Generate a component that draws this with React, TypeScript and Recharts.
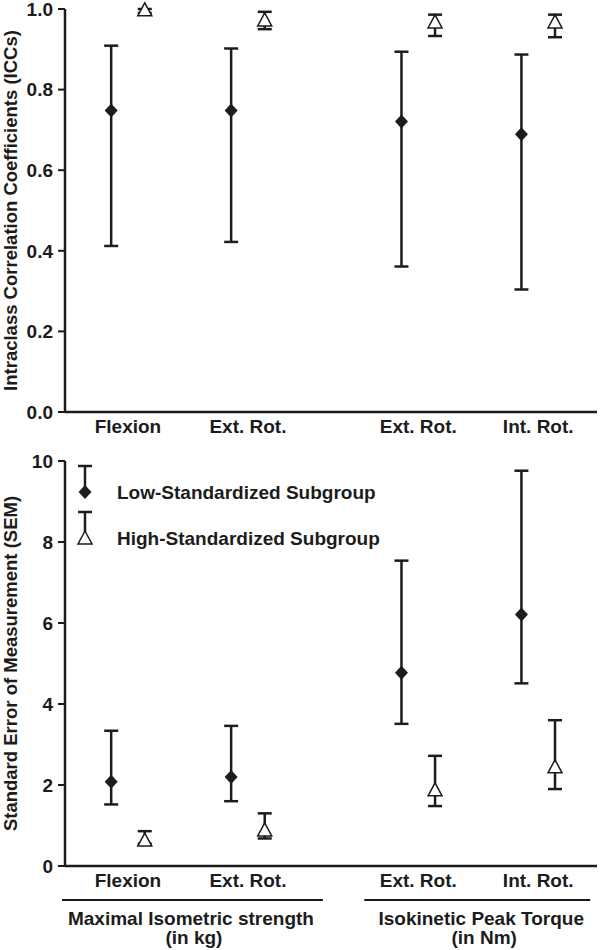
import { ErrorBar, Legend, Scatter, ScatterChart, XAxis, YAxis } from "recharts";

const categories = ["Flexion", "Ext. Rot.", "Ext. Rot.", "Int. Rot."];
const categoryGroup = [0, 0, 1, 1];
const groupTitles = ["Maximal Isometric strength", "Isokinetic Peak Torque"];
const groupUnits = ["(in kg)", "(in Nm)"];
const seriesNames = ["Low-Standardized Subgroup", "High-Standardized Subgroup"];

const iccTicks = [0, 0.2, 0.4, 0.6, 0.8, 1.0];
const semTicks = [0, 2, 4, 6, 8, 10];

// ICCs with 95% CI
const iccLowMean = [0.748, 0.748, 0.721, 0.689];
const iccLowLower = [0.412, 0.422, 0.361, 0.304];
const iccLowUpper = [0.909, 0.902, 0.894, 0.887];
const iccHighMean = [0.998, 0.973, 0.968, 0.968];
const iccHighLower = [0.99, 0.95, 0.933, 0.93];
const iccHighUpper = [1.0, 0.993, 0.986, 0.986];

// SEM with 95% CI
const semLowMean = [2.08, 2.2, 4.77, 6.21];
const semLowLower = [1.52, 1.6, 3.51, 4.51];
const semLowUpper = [3.34, 3.46, 7.54, 9.76];
const semHighMean = [0.64, 0.89, 1.88, 2.45];
const semHighLower = [0.55, 0.68, 1.48, 1.9];
const semHighUpper = [0.86, 1.3, 2.72, 3.6];

const FONT = '"Liberation Sans", Arial, sans-serif';
const INK = "#1c1c1c";
const GROUP_GAP = 0.42;
const DODGE = 0.14;
const X_DOMAIN: [number, number] = [0.475, 4.91];
const PLOT_LEFT = 65;
const PLOT_RIGHT = 597;
// how far each group rule sticks out past its outer categories (px, left/right)
const RULE_OVERHANG = [
  [66, 75],
  [54, 52],
];

const positions = categories.map((_, i) => i + 1 + categoryGroup[i] * GROUP_GAP);
const groupCenters = groupTitles.map((_, g) => {
  const ps = positions.filter((_, i) => categoryGroup[i] === g);
  return (Math.min(...ps) + Math.max(...ps)) / 2;
});
const groupSpans = groupTitles.map((_, g) => {
  const ps = positions.filter((_, i) => categoryGroup[i] === g);
  return [Math.min(...ps), Math.max(...ps)];
});

// same linear mapping the x axis uses, for the group captions under the lower panel
const px = (v: number) =>
  PLOT_LEFT + ((v - X_DOMAIN[0]) / (X_DOMAIN[1] - X_DOMAIN[0])) * (PLOT_RIGHT - PLOT_LEFT);

const buildSeries = (
  mean: number[],
  lower: number[],
  upper: number[],
  shift: number,
) =>
  mean.map((m, i) => ({
    x: positions[i] + shift,
    y: m,
    err: [m - lower[i], upper[i] - m],
  }));

const labelFor = (v: number) => {
  const i = positions.findIndex((p) => Math.abs(p - v) < 1e-6);
  return i >= 0 ? categories[i] : "";
};

const Diamond = ({ cx, cy }: any) => (
  <polygon
    points={`${cx},${cy - 7} ${cx + 6.5},${cy} ${cx},${cy + 7} ${cx - 6.5},${cy}`}
    fill={INK}
  />
);

const Triangle = ({ cx, cy }: any) => (
  <polygon
    points={`${cx},${cy - 7} ${cx + 7},${cy + 6} ${cx - 7},${cy + 6}`}
    fill="#fff"
    stroke={INK}
    strokeWidth={1.5}
  />
);

const tickStyle = { fontFamily: FONT, fontSize: 19, fontWeight: 700, fill: INK };

const AxisTitle = ({ viewBox, text }: any) => {
  const cy = viewBox.y + viewBox.height / 2;
  return (
    <text
      x={0}
      y={0}
      transform={`translate(10, ${cy}) rotate(-90)`}
      textAnchor="middle"
      dominantBaseline="central"
      style={{ fontFamily: FONT, fontSize: 18.5, fontWeight: 700, fill: INK }}
    >
      {text}
    </text>
  );
};

const GroupCaptions = () => (
  <svg width={600} height={60} style={{ display: "block" }}>
    {groupCenters.map((c, g) => {
      const x = px(c);
      const x1 = px(groupSpans[g][0]) - RULE_OVERHANG[g][0];
      const x2 = px(groupSpans[g][1]) + RULE_OVERHANG[g][1];
      return (
        <g key={g}>
          <line x1={x1} x2={x2} y1={10} y2={10} stroke={INK} strokeWidth={2} />
          <text x={x + 3} y={28} textAnchor="middle" dominantBaseline="central" style={tickStyle}>
            {groupTitles[g]}
          </text>
          <text x={x + 6} y={47} textAnchor="middle" dominantBaseline="central" style={tickStyle}>
            {groupUnits[g]}
          </text>
        </g>
      );
    })}
  </svg>
);

const SemLegend = () => (
  <svg width={340} height={92} style={{ display: "block" }}>
    <line x1={15} x2={15} y1={4} y2={30} stroke={INK} strokeWidth={2.5} />
    <line x1={8} x2={22} y1={4} y2={4} stroke={INK} strokeWidth={2.5} />
    <Diamond cx={15} cy={30} />
    <text x={47} y={30} dominantBaseline="central" style={tickStyle}>
      {seriesNames[0]}
    </text>
    <line x1={15} x2={15} y1={50} y2={76} stroke={INK} strokeWidth={2.5} />
    <line x1={8} x2={22} y1={50} y2={50} stroke={INK} strokeWidth={2.5} />
    <Triangle cx={15} cy={76} />
    <text x={47} y={76} dominantBaseline="central" style={tickStyle}>
      {seriesNames[1]}
    </text>
  </svg>
);

const Panel = ({
  height,
  marginTop,
  xAxisHeight,
  ticks,
  title,
  low,
  high,
  withLegend,
}: any) => (
  <ScatterChart
    width={600}
    height={height}
    margin={{ top: marginTop, right: 600 - PLOT_RIGHT, left: 0, bottom: 0 }}
  >
    <XAxis
      type="number"
      dataKey="x"
      domain={X_DOMAIN}
      ticks={positions}
      tickFormatter={labelFor}
      interval={0}
      height={xAxisHeight}
      axisLine={{ stroke: INK, strokeWidth: 2.5 }}
      tickLine={false}
      tickSize={0}
      tickMargin={8}
      tick={tickStyle}
    />
    <YAxis
      type="number"
      dataKey="y"
      domain={[ticks[0], ticks[ticks.length - 1]]}
      ticks={ticks}
      interval={0}
      width={PLOT_LEFT}
      axisLine={{ stroke: INK, strokeWidth: 2.5 }}
      tickLine={{ stroke: INK, strokeWidth: 2 }}
      tickSize={7}
      tickMargin={5}
      tick={tickStyle}
      tickFormatter={(v: number) => (ticks[ticks.length - 1] <= 1 ? v.toFixed(1) : String(v))}
      label={(props: any) => <AxisTitle {...props} text={title} />}
    />
    {withLegend && (
      <Legend
        layout="horizontal"
        verticalAlign="middle"
        content={() => <SemLegend />}
        wrapperStyle={{ top: 12, left: 70, width: 340, height: 92 }}
      />
    )}
    <Scatter
      name={seriesNames[0]}
      data={low}
      shape={(p: any) => <Diamond {...p} />}
      isAnimationActive={false}
    >
      <ErrorBar dataKey="err" direction="y" width={7} stroke={INK} strokeWidth={2.5} />
    </Scatter>
    <Scatter
      name={seriesNames[1]}
      data={high}
      shape={(p: any) => <Triangle {...p} />}
      isAnimationActive={false}
    >
      <ErrorBar dataKey="err" direction="y" width={7} stroke={INK} strokeWidth={2.5} />
    </Scatter>
  </ScatterChart>
);

export default function App() {
  const iccLow = buildSeries(iccLowMean, iccLowLower, iccLowUpper, -DODGE);
  const iccHigh = buildSeries(iccHighMean, iccHighLower, iccHighUpper, DODGE);
  const semLow = buildSeries(semLowMean, semLowLower, semLowUpper, -DODGE);
  const semHigh = buildSeries(semHighMean, semHighLower, semHighUpper, DODGE);

  return (
    <div
      style={{
        position: "absolute",
        left: 0,
        top: 0,
        width: 600,
        height: 950,
        background: "#fff",
        fontFamily: FONT,
      }}
    >
      <div style={{ position: "absolute", left: 0, top: 0 }}>
        <Panel
          height={450}
          marginTop={9}
          xAxisHeight={38}
          ticks={iccTicks}
          title="Intraclass Correlation Coefficients (ICCs)"
          low={iccLow}
          high={iccHigh}
        />
      </div>
      <div style={{ position: "absolute", left: 0, top: 450 }}>
        <Panel
          height={450}
          marginTop={11}
          xAxisHeight={34}
          ticks={semTicks}
          title="Standard Error of Measurement (SEM)"
          low={semLow}
          high={semHigh}
          withLegend
        />
      </div>
      <div style={{ position: "absolute", left: 0, top: 890 }}>
        <GroupCaptions />
      </div>
    </div>
  );
}
